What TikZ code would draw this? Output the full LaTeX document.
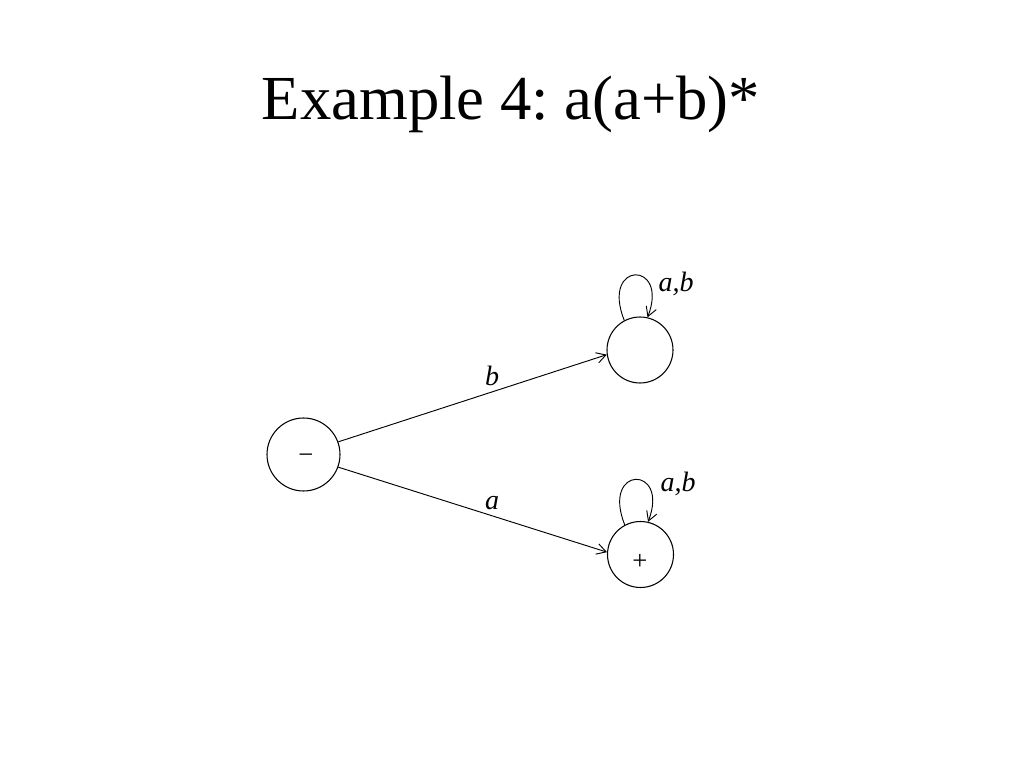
\documentclass[tikz,border=0pt]{standalone}
\usepackage{fontspec}
\setmainfont{Liberation Serif}
\usetikzlibrary{arrows.meta}
\begin{document}
\frenchspacing
\begin{tikzpicture}[x=0.75pt,y=0.75pt,
  stnode/.style={circle,draw,line width=0.8pt,inner sep=0pt},
  sign/.style={inner sep=0pt,font=\fontsize{20}{24}\selectfont},
  edge/.style={line width=0.7pt,-{Straight Barb[length=7pt,width=8pt,line width=0.7pt]}},
  lbl/.style={anchor=base,inner sep=0pt,font=\fontsize{21}{25}\selectfont\itshape}]
\useasboundingbox[fill=white] (0,0) rectangle (1024,768);
\node[anchor=base,inner sep=0pt,font=\fontsize{47}{56}\selectfont] (title) at (511,648) {Example 4: a(a+b)*};
\node[stnode,minimum size=54.75pt] (s) at (303.5,313.5) {};
\node[stnode,minimum size=49.5pt] (q1) at (640,418) {};
\node[stnode,minimum size=49.5pt] (q2) at (640.5,213.5) {};
\node[sign] (sm) at (306,309) {−};
\node[sign] (sp) at (640,206) {+};
\draw[edge] (s.20) -- (q1.188);
\draw[edge] (s.-20) -- (q2.176);
\draw[edge] (q1.118) .. controls +(-24,60) and +(22,57) .. (q1.77);
\draw[edge] (q2.118) .. controls +(-24,60) and +(22,57) .. (q2.77);
\node[lbl] (lb) at (492,382) {b};
\node[lbl] (la) at (492,258) {a};
\node[lbl] (l1) at (676,476) {a,b};
\node[lbl] (l2) at (678,276) {a,b};
\end{tikzpicture}
\end{document}
